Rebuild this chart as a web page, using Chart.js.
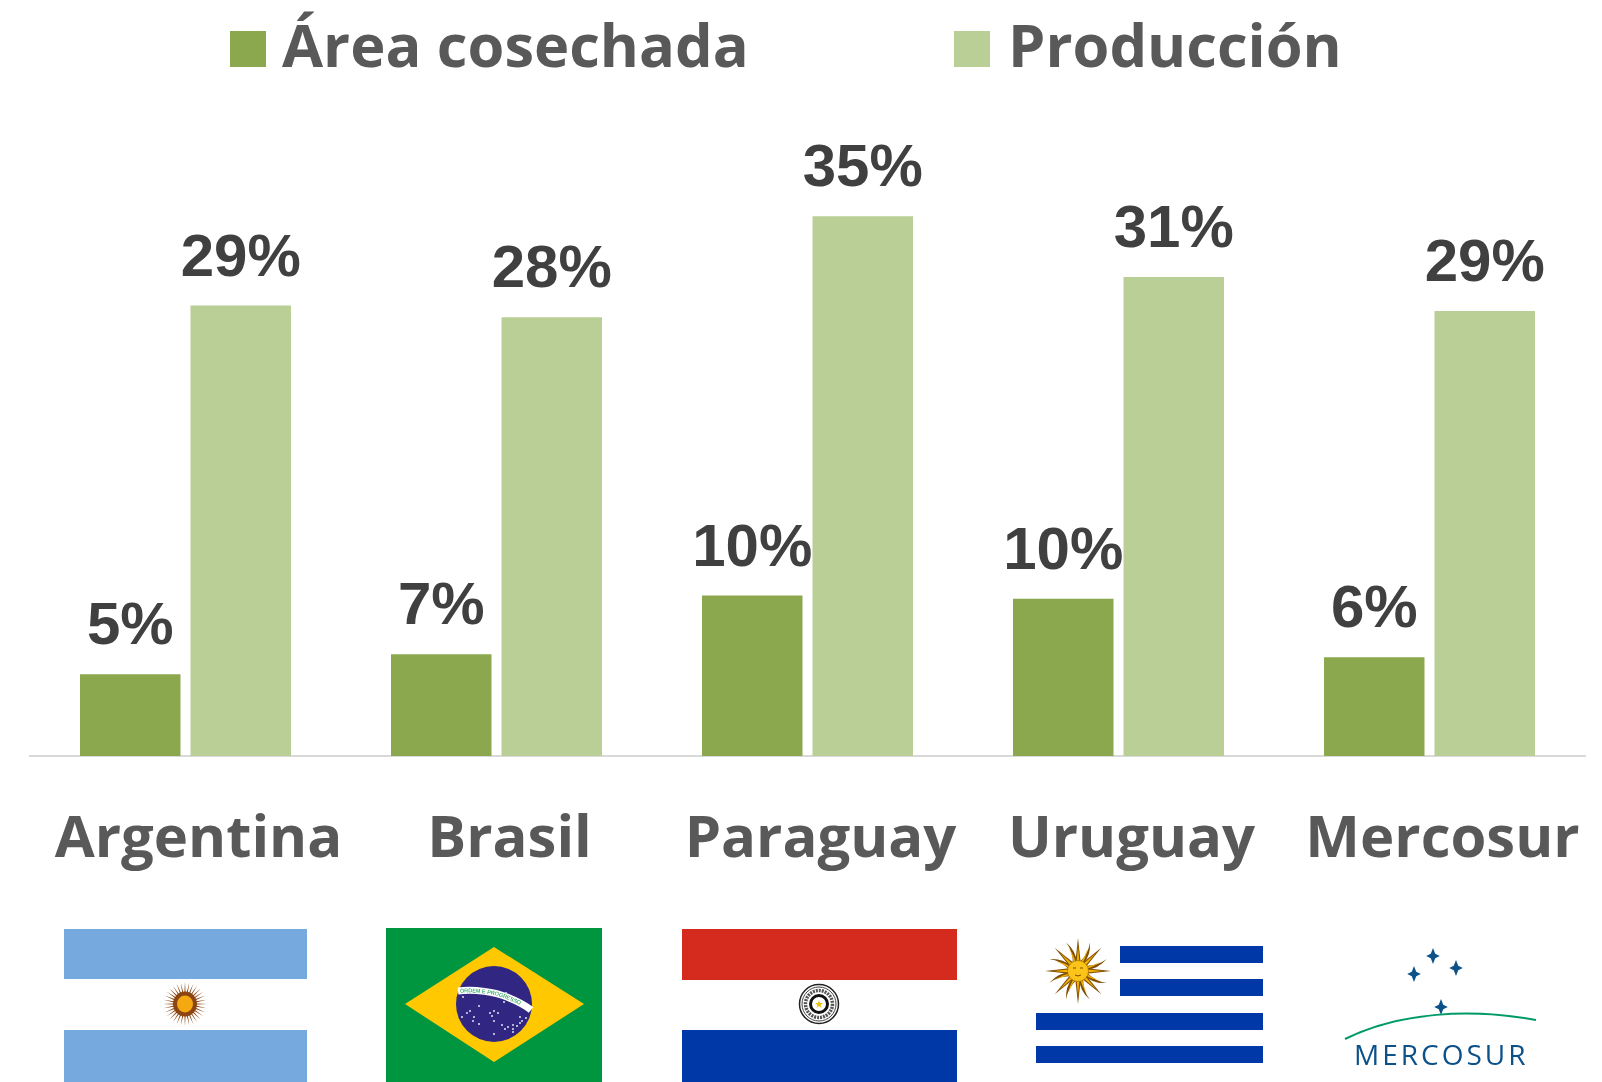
<!DOCTYPE html>
<html>
<head>
<meta charset="utf-8">
<style>
  html, body { margin: 0; padding: 0; background: #fff; }
  #wrap { position: relative; width: 1602px; height: 1082px; overflow: hidden; }
  #flags { position: absolute; left: 0; top: 0; }
</style>
<script src="https://cdn.jsdelivr.net/npm/chart.js@4"></script>
</head>
<body>
<div id="wrap">
  <canvas id="barChart" width="1602" height="1082"></canvas>
  <svg id="flags" width="1602" height="1082" xmlns="http://www.w3.org/2000/svg"></svg>
</div>
<script>
const categories = ['Argentina', 'Brasil', 'Paraguay', 'Uruguay', 'Mercosur'];
const areaCosechada = [5.3, 6.6, 10.4, 10.2, 6.4];
const produccion = [29.2, 28.45, 35, 31.05, 28.85];
const areaLabel = 'Área cosechada';
const produccionLabel = 'Producción';

const textFont = '"Open Sans"';

// etiquetas de valor arriba de cada barra
const valueLabels = {
  id: 'valueLabels',
  afterDatasetsDraw(chart) {
    const c = chart.ctx;
    c.save();
    c.font = 'bold 60px "Liberation Sans"';
    c.fillStyle = '#404040';
    c.textAlign = 'center';
    c.textBaseline = 'alphabetic';
    chart.data.datasets.forEach((ds, i) => {
      chart.getDatasetMeta(i).data.forEach((bar, j) => {
        c.fillText(Math.round(ds.data[j]) + '%', bar.x, bar.y - 30);
      });
    });
    c.restore();
  }
};

// leyenda propia, la de Chart.js separa demasiado el texto del cuadro
const topLegend = {
  id: 'topLegend',
  afterDraw(chart) {
    const c = chart.ctx;
    const starts = [230, 954];
    c.save();
    c.font = 'bold 59.6px ' + textFont;
    c.textBaseline = 'alphabetic';
    chart.data.datasets.forEach((ds, i) => {
      c.fillStyle = ds.backgroundColor;
      c.fillRect(starts[i], 31, 36, 36);
      c.fillStyle = '#595959';
      c.fillText(ds.label, starts[i] + 52 + i * 2, 67);
    });
    c.restore();
  }
};

new Chart(document.getElementById('barChart').getContext('2d'), {
  type: 'bar',
  data: {
    labels: categories,
    datasets: [
      { label: areaLabel, data: areaCosechada, backgroundColor: '#8ba84f' },
      { label: produccionLabel, data: produccion, backgroundColor: '#b9cf96' }
    ]
  },
  options: {
    responsive: false,
    animation: false,
    layout: { padding: { left: 30, right: 17, top: 139, bottom: 0 } },
    datasets: { bar: { categoryPercentage: 0.7106, barPercentage: 0.9095 } },
    plugins: { legend: { display: false }, tooltip: { enabled: false } },
    scales: {
      x: {
        grid: { display: false, drawTicks: false },
        border: { display: true, color: '#d9d9d9', width: 2 },
        ticks: {
          color: '#595959',
          font: { size: 58, weight: 'bold', family: textFont },
          labelOffset: 13,
          padding: 50,
          maxRotation: 0,
          autoSkip: false
        },
        afterFit(scale) {
          scale.height = 326;
          scale.paddingLeft = 0;
          scale.paddingRight = 0;
        }
      },
      y: { display: false, min: 0, max: 40 }
    }
  },
  plugins: [valueLabels, topLegend]
});

// banderas y logo, son solo decoracion debajo del grafico
const svg = document.getElementById('flags');
function rays(cx, cy, rIn, rOut, n, half, fill, start) {
  let out = '';
  for (let i = 0; i < n; i++) {
    const a = (start || 0) + i * 2 * Math.PI / n;
    const p = [[a - half, rIn], [a, rOut], [a + half, rIn]]
      .map(q => (cx + q[1] * Math.cos(q[0])).toFixed(1) + ',' + (cy + q[1] * Math.sin(q[0])).toFixed(1));
    out += `<polygon points="${p.join(' ')}" fill="${fill}"/>`;
  }
  return out;
}
// rayos ondulados del sol de Uruguay
function wavyRays(cx, cy, rIn, rOut, n, half, fill, start) {
  let out = '';
  const pt = (a, r) => (cx + r * Math.cos(a)).toFixed(1) + ' ' + (cy + r * Math.sin(a)).toFixed(1);
  for (let i = 0; i < n; i++) {
    const a = start + i * 2 * Math.PI / n;
    const mid = (rIn + rOut) / 2;
    out += `<path fill="${fill}" d="M${pt(a - half, rIn)} Q${pt(a + half * 0.7, mid)} ${pt(a, rOut)} Q${pt(a + half * 1.4, mid)} ${pt(a + half, rIn)} Z"/>`;
  }
  return out;
}
function star(x, y, r) {
  const s = r * 0.28;
  return `<polygon fill="#0d5189" points="${x},${y - r} ${x + s},${y - s} ${x + r * 0.85},${y} ${x + s},${y + s} ${x},${y + r} ${x - s},${y + s} ${x - r * 0.85},${y} ${x - s},${y - s}"/>`;
}
const brazilStars = [[463,997],[479,1006],[467,1013],[470,1011],[462,1017],[474,1017],[473,1021],[479,1024],[494,1011],[490,1013],[498,1013],[492,1016],[494,1021],[502,1025],[505,1029],[508,1027],[513,1025],[513,1029],[517,1026],[520,1023],[520,1017],[526,1018],[522,1021],[513,1032],[494,1034],[506,993],[504,1002]];
let html = '';
// Argentina
html += '<rect x="64" y="929" width="243" height="50" fill="#76aadf"/><rect x="64" y="1030" width="243" height="52" fill="#76aadf"/>';
html += rays(185, 1004, 8, 22, 32, 0.1, '#8a4512');
html += '<ellipse cx="185" cy="1004" rx="12" ry="12.5" fill="#8a4512"/><ellipse cx="185" cy="1004" rx="8" ry="8.5" fill="#f3a90f"/>';
// Brasil
html += '<rect x="386" y="928" width="216" height="154" fill="#009640"/>';
html += '<polygon points="405,1004 494,947 584,1004 494,1062" fill="#ffc800"/>';
html += '<circle cx="494" cy="1004" r="38" fill="#312783"/>';
html += '<path id="banda" d="M458,991 C475,989 495,992 507,997 C517,1001 525,1005 531,1010" fill="none" stroke="#fff" stroke-width="7"/>';
html += '<text font-family="\'Liberation Sans\'" font-size="5.5" fill="#009640" dy="2"><textPath href="#banda" startOffset="2">ORDEM E PROGRESSO</textPath></text>';
brazilStars.forEach(s => { html += `<circle cx="${s[0]}" cy="${s[1]}" r="1" fill="#dfe3f2"/>`; });
// Paraguay
html += '<rect x="682" y="929" width="275" height="51" fill="#d52b1e"/><rect x="682" y="1030" width="275" height="52" fill="#0038a8"/>';
html += '<circle cx="819" cy="1004" r="19.5" fill="#fff" stroke="#222" stroke-width="1.5"/><circle cx="819" cy="1004" r="17" fill="none" stroke="#444" stroke-width="1"/><circle cx="819" cy="1004" r="13.5" fill="none" stroke="#555" stroke-width="3.5" stroke-dasharray="2 1"/><circle cx="819" cy="1004" r="8.5" fill="#fff" stroke="#111" stroke-width="3"/>';
html += '<polygon points="819,1000 820,1003 823,1003 820.5,1005 821.5,1008 819,1006 816.5,1008 817.5,1005 815,1003 818,1003" fill="#e8c000"/>';
// Uruguay
html += '<g fill="#0038a8"><rect x="1120" y="946" width="143" height="17"/><rect x="1120" y="979" width="143" height="17"/><rect x="1036" y="1013" width="227" height="17"/><rect x="1036" y="1046" width="227" height="17"/></g>';
html += rays(1078, 971, 9, 33, 8, 0.3, '#7f4e00', 0);
html += wavyRays(1078, 971, 9, 31, 8, 0.22, '#7f4e00', Math.PI / 8);
html += rays(1078, 971, 9, 25, 8, 0.16, '#f4b400', 0);
html += wavyRays(1078, 971, 9, 24, 8, 0.11, '#f4b400', Math.PI / 8);
html += '<circle cx="1078" cy="971" r="10.5" fill="#fcc419" stroke="#a87400" stroke-width="0.7"/>';
html += '<path d="M1073,968 h3 M1080,968 h3 M1075,975 q3,2 6,0" fill="none" stroke="#7f4e00" stroke-width="1"/>';
// Mercosur
html += star(1433, 956, 8) + star(1456, 968, 8) + star(1414, 974, 8) + star(1441, 1007, 8);
html += '<path d="M1345,1039 C1400,1012 1470,1008 1536,1020" fill="none" stroke="#009a67" stroke-width="2"/>';
html += '<text x="1354" y="1065" font-family="\'Open Sans\'" font-size="28" letter-spacing="3" fill="#0d5189">MERCOSUR</text>';
svg.innerHTML = html;
</script>
</body>
</html>
